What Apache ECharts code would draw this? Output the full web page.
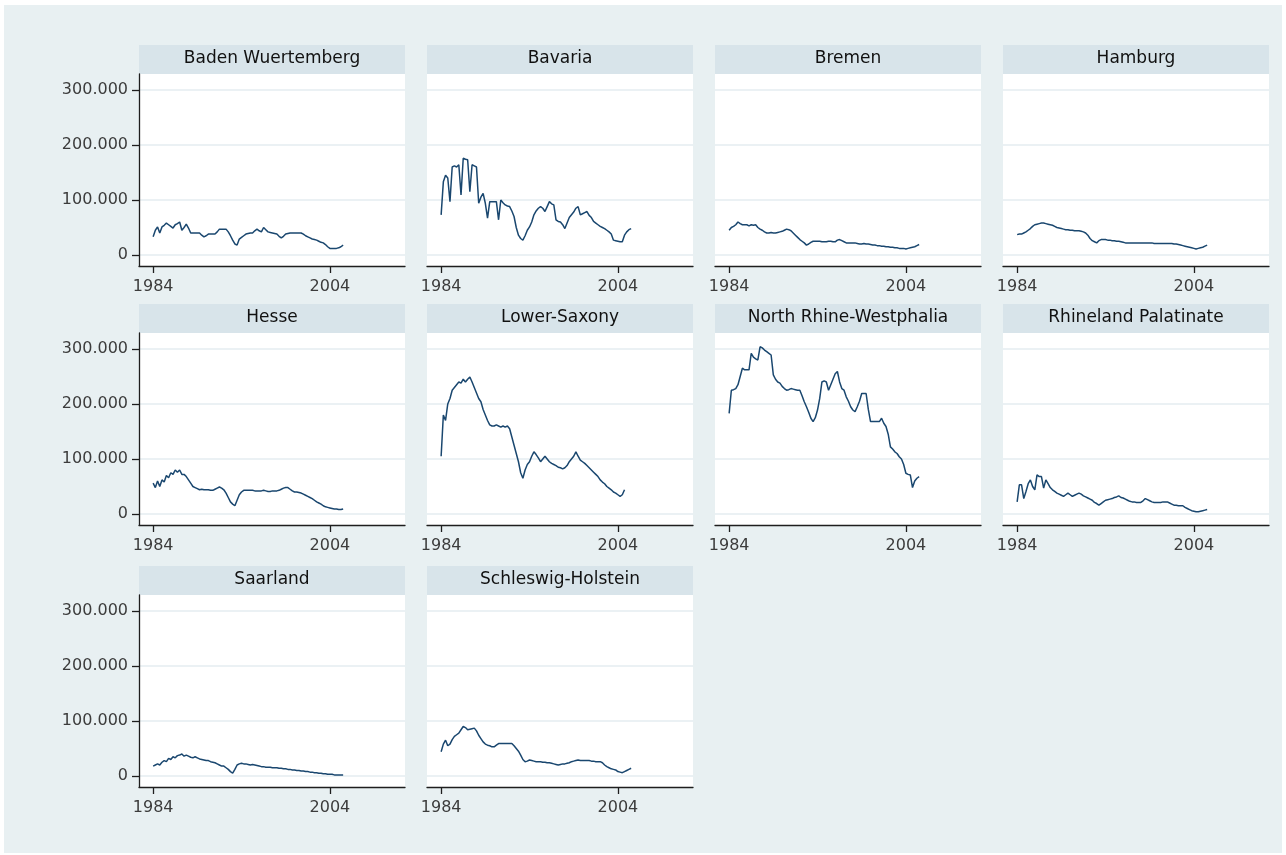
<!DOCTYPE html>
<html>
<head>
<meta charset="utf-8">
<script src="https://cdn.jsdelivr.net/npm/echarts@6/dist/echarts.min.js"></script>
<style>
html, body { margin: 0; padding: 0; background: #ffffff; }
#chart { position: absolute; left: 4px; top: 5px; width: 1278px; height: 848px; }
</style>
</head>
<body>
<div id="chart"></div>
<script>
// quarterly observations, 1984q1 .. 2005q3 (values in thousands)
var startYear = 1984;
var stateNames = ['Baden Wuertemberg', 'Bavaria', 'Bremen', 'Hamburg', 'Hesse',
    'Lower-Saxony', 'North Rhine-Westphalia', 'Rhineland Palatinate', 'Saarland', 'Schleswig-Holstein'];
var xTicks = [1984, 2004];
var yTicks = [0, 100, 200, 300];

var badenWuertemberg = [33,45,51,40, 51,54,58,55, 52,49,55,57, 60,45,50,56, 49,40,40,40, 40,40,36,33,
    35,38,38,38, 38,42,47,47, 47,47,42,35, 27,20,18,29, 32,35,38,39, 40,40,44,47, 44,42,50,46,
    42,41,40,39, 38,34,31,34, 38,39,40,40, 40,40,40,40, 38,35,33,31, 29,28,27,25, 23,22,19,15,
    12,12,12,12, 13,15,18];
var bavaria = [73,133,145,140, 97,160,162,160, 164,109,176,174, 173,115,164,162, 160,94,105,112,
    94,67,97,97, 97,97,64,100, 95,91,89,88, 80,70,50,36, 30,27,35,45, 51,60,73,80, 85,88,85,79,
    88,97,93,91, 64,61,60,55, 48,58,68,73, 78,85,88,73, 75,77,79,72, 68,61,58,55, 52,50,48,45,
    42,38,27,26, 25,24,24,36, 42,46,48];
var bremen = [45,50,52,55, 60,57,55,55, 55,53,55,54, 55,50,47,45, 42,40,40,41, 40,40,41,42,
    43,45,47,46, 44,40,36,32, 28,25,22,18, 20,23,25,25, 25,25,24,24, 24,25,25,24, 24,27,28,26,
    24,22,22,22, 22,22,21,20, 20,21,20,20, 19,18,18,17, 17,16,16,15, 15,14,14,13, 13,12,12,12,
    11,12,13,14, 15,17,19];
var hamburg = [37,38,38,40, 42,45,48,52, 55,56,57,58, 58,57,56,55, 54,52,50,49, 48,47,46,46,
    45,45,44,44, 44,43,42,40, 36,30,26,24, 22,26,28,28, 28,27,27,26, 26,25,25,24, 23,22,22,22,
    22,22,22,22, 22,22,22,22, 22,22,21,21, 21,21,21,21, 21,21,21,20, 20,19,18,17, 16,15,14,13,
    12,11,12,13, 14,16,18];
var hesse = [56,48,60,50, 62,58,70,66, 75,72,80,76, 80,72,72,68, 62,56,50,48, 46,44,45,44,
    44,44,43,43, 45,47,49,47, 44,38,30,22, 18,15,25,35, 40,43,43,43, 43,43,42,42, 42,42,43,42,
    41,41,42,42, 42,43,45,47, 48,48,45,42, 40,40,39,38, 36,34,32,30, 28,25,22,20, 18,15,13,12,
    11,10,9,9, 8,8,9];
var lowerSaxony = [105,180,170,200, 210,225,230,235, 240,238,245,240, 245,249,240,230, 220,210,204,190,
    180,170,162,160, 160,162,160,158, 160,158,160,155, 140,125,110,95, 75,65,80,90, 95,105,113,108,
    102,95,100,105, 100,95,92,90, 88,85,84,82, 84,88,95,100, 105,113,105,98, 95,92,88,84,
    80,76,72,68, 62,58,55,50, 47,44,40,38, 35,32,35,44];
var northRhineWestphalia = [183,225,226,228, 235,250,265,262, 262,262,292,285, 282,280,304,302,
    298,295,292,289, 253,245,240,238, 232,228,225,226, 228,227,226,225, 225,215,204,195,
    185,174,168,175, 189,210,240,242, 240,225,235,245, 255,259,240,228, 225,213,205,195,
    189,186,195,205, 219,219,219,190, 168,168,168,168, 168,174,165,159, 145,122,118,113,
    110,104,100,90, 74,72,71,48, 60,65,68];
var rhinelandPalatinate = [22,53,53,28, 41,55,62,50, 44,71,68,68, 47,62,55,48, 44,41,38,36,
    34,32,35,38, 35,32,34,36, 38,36,33,31, 29,27,25,21, 19,16,19,22, 25,26,27,28, 30,31,33,30,
    29,27,25,23, 22,22,21,21, 21,24,28,26, 24,22,21,21, 21,21,22,22, 22,20,18,16, 16,15,15,15,
    12,10,8,6, 5,4,4,5, 6,7,8];
var saarland = [18,20,22,20, 25,28,26,32, 30,35,33,37, 38,40,36,38, 36,34,33,35, 33,31,30,29,
    28,28,26,25, 24,22,20,18, 18,15,12,8, 5,12,20,22, 23,22,22,21, 20,21,20,19, 18,17,17,16,
    16,16,15,15, 15,14,14,13, 13,12,12,11, 11,10,10,9, 9,8,8,7, 7,6,6,5, 5,4,4,3,
    3,3,2,2, 2,2,2];
var schleswigHolstein = [44,58,65,55, 58,66,72,75, 78,84,90,88, 84,85,86,87, 82,74,68,62,
    58,56,55,53, 53,56,59,59, 59,59,59,59, 59,55,50,45, 38,30,26,27, 29,28,27,26, 26,26,25,25,
    24,24,23,22, 21,20,21,22, 22,23,24,26, 27,28,29,28, 28,28,28,28, 27,27,26,26, 26,24,20,17,
    15,13,12,11, 8,7,6,8, 10,12,14];

var stateValues = [badenWuertemberg, bavaria, bremen, hamburg, hesse, lowerSaxony,
    northRhineWestphalia, rhinelandPalatinate, saarland, schleswigHolstein];

var chart = echarts.init(document.getElementById('chart'));

var colLeft = [135, 423, 711, 999];
var rowTop = [69, 328, 590];
var plotW = 266, plotH = 192, headH = 29;
var lineColor = '#1a476f';
var labelColor = '#3c3c3c';
var axisColor = '#1e1e1e';

var grids = [], xAxes = [], yAxes = [], series = [], graphics = [];

stateNames.forEach(function (name, i) {
    var c = i % 4, r = Math.floor(i / 4);
    var first = (c === 0);
    grids.push({
        left: colLeft[c], top: rowTop[r], width: plotW, height: plotH,
        show: true, backgroundColor: '#ffffff', borderWidth: 0
    });
    xAxes.push({
        type: 'value', gridIndex: i, min: 1982.4, max: 2012.5,
        axisLine: { show: true, onZero: false, lineStyle: { color: axisColor, width: 1.3 } },
        axisTick: { show: true, customValues: xTicks, length: 7, lineStyle: { color: axisColor, width: 1.3 } },
        axisLabel: { show: true, customValues: xTicks, margin: 13, fontSize: 16,
            fontFamily: 'DejaVu Sans', color: labelColor,
            formatter: function (v) { return String(v); } },
        splitLine: { show: false }
    });
    yAxes.push({
        type: 'value', gridIndex: i, min: -20, max: 329,
        axisLine: { show: first, onZero: false, lineStyle: { color: axisColor, width: 1.3 } },
        axisTick: { show: first, customValues: yTicks, length: 7, lineStyle: { color: axisColor, width: 1.3 } },
        axisLabel: { show: first, customValues: yTicks, margin: 11, fontSize: 16,
            fontFamily: 'DejaVu Sans', color: labelColor,
            formatter: function (v) { return v === 0 ? '0' : v + '.000'; } },
        splitLine: { show: true, lineStyle: { color: '#e4edf0', width: 1.6 } }
    });
    var vals = stateValues[i];
    series.push({
        type: 'line', xAxisIndex: i, yAxisIndex: i,
        data: vals.map(function (v, k) { return [startYear + k / 4, v]; }),
        showSymbol: false, symbol: 'none',
        lineStyle: { color: lineColor, width: 1.5 },
        animation: false
    });
    graphics.push({
        type: 'rect', shape: { x: colLeft[c], y: rowTop[r] - headH, width: plotW, height: headH },
        style: { fill: '#d8e4ea' }
    });
    graphics.push({
        type: 'text', x: colLeft[c] + plotW / 2, y: rowTop[r] - headH / 2 - 1,
        style: { text: name, fill: '#111111', font: '17px "DejaVu Sans"',
            textAlign: 'center', textVerticalAlign: 'middle' }
    });
});

chart.setOption({
    backgroundColor: '#e8f0f2',
    animation: false,
    grid: grids,
    xAxis: xAxes,
    yAxis: yAxes,
    series: series,
    graphic: graphics
});
</script>
</body>
</html>
